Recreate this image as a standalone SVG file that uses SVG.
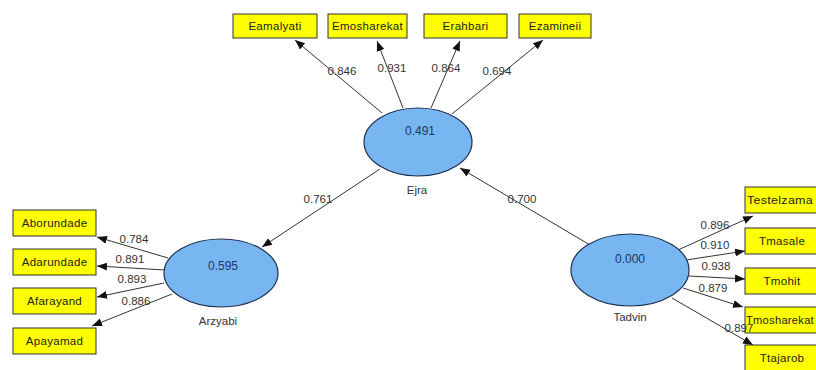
<svg xmlns="http://www.w3.org/2000/svg" width="816" height="370" viewBox="0 0 816 370">
<defs>
<marker id="ah" viewBox="0 0 10 10" refX="10" refY="5" markerWidth="10" markerHeight="10" markerUnits="userSpaceOnUse" orient="auto">
<path d="M0,1 L10,5 L0,9 Z" fill="#111"/>
</marker>
</defs>
<style>
.box{fill:#ffff00;stroke:#333;stroke-width:1}
.bt{font-family:"Liberation Sans",Arial,sans-serif;font-size:11.5px;fill:#222;text-anchor:middle;letter-spacing:0.3px}
.lv{fill:#78b6f2;stroke:#1f2f4f;stroke-width:1.2}
.lvt{font-family:"Liberation Sans",Arial,sans-serif;font-size:12px;fill:#1c3560;text-anchor:middle}
.lvn{font-family:"Liberation Sans",Arial,sans-serif;font-size:11.5px;fill:#333;text-anchor:middle}
.c{stroke:#333;stroke-width:1;fill:none;marker-end:url(#ah)}
.lb{font-family:"Liberation Sans",Arial,sans-serif;font-size:11.5px;fill:#333;text-anchor:middle}
</style>
<rect width="816" height="370" fill="#fff"/>
<g id="connectors">
<line class="c" x1="382" y1="113" x2="295" y2="40"/>
<line class="c" x1="403" y1="108" x2="377" y2="41"/>
<line class="c" x1="431" y1="108" x2="460" y2="41"/>
<line class="c" x1="452" y1="114" x2="543" y2="40"/>
<line class="c" x1="380" y1="169" x2="262" y2="247"/>
<line class="c" x1="590" y1="245" x2="460" y2="168"/>
<line class="c" x1="168" y1="258" x2="97" y2="237"/>
<line class="c" x1="165" y1="270" x2="97" y2="266"/>
<line class="c" x1="164" y1="283" x2="97" y2="297"/>
<line class="c" x1="172" y1="294" x2="92" y2="326"/>
<line class="c" x1="678" y1="250" x2="753" y2="216"/>
<line class="c" x1="686" y1="260" x2="745" y2="251"/>
<line class="c" x1="689" y1="276" x2="745" y2="279"/>
<line class="c" x1="683" y1="288" x2="743" y2="307"/>
<line class="c" x1="672" y1="298" x2="753" y2="345"/>
</g>
<g id="Ejra">
<ellipse class="lv" cx="418" cy="142" rx="54" ry="34"/>
<text class="lvt" x="420" y="135">0.491</text>
<text class="lvn" x="417" y="194">Ejra</text>
</g>
<g id="Arzyabi">
<ellipse class="lv" cx="221" cy="273" rx="57" ry="34"/>
<text class="lvt" x="223" y="270">0.595</text>
<text class="lvn" x="218" y="325">Arzyabi</text>
</g>
<g id="Tadvin">
<ellipse class="lv" cx="630" cy="270" rx="59" ry="36"/>
<text class="lvt" x="630" y="263">0.000</text>
<text class="lvn" x="630" y="321">Tadvin</text>
</g>
<g id="Eamalyati"><rect class="box" x="233" y="14" width="84" height="24"/><text class="bt" x="275" y="30">Eamalyati</text></g>
<g id="Emosharekat"><rect class="box" x="328" y="14" width="79" height="24"/><text class="bt" x="367.5" y="30">Emosharekat</text></g>
<g id="Erahbari"><rect class="box" x="424" y="14" width="83" height="24"/><text class="bt" x="465.5" y="30">Erahbari</text></g>
<g id="Ezamineii"><rect class="box" x="519" y="14" width="72" height="24"/><text class="bt" x="555" y="30">Ezamineii</text></g>
<g id="Aborundade"><rect class="box" x="13" y="210" width="83" height="26"/><text class="bt" x="54.5" y="227">Aborundade</text></g>
<g id="Adarundade"><rect class="box" x="13" y="249" width="83" height="26"/><text class="bt" x="54.5" y="266">Adarundade</text></g>
<g id="Afarayand"><rect class="box" x="13" y="288" width="83" height="26"/><text class="bt" x="54.5" y="305">Afarayand</text></g>
<g id="Apayamad"><rect class="box" x="13" y="328" width="83" height="26"/><text class="bt" x="54.5" y="345">Apayamad</text></g>
<g id="Testelzama"><rect class="box" x="745" y="187" width="76" height="26"/><text class="bt" x="780" y="204" textLength="66" lengthAdjust="spacingAndGlyphs">Testelzama</text></g>
<g id="Tmasale"><rect class="box" x="745" y="228" width="76" height="26"/><text class="bt" x="782" y="245">Tmasale</text></g>
<g id="Tmohit"><rect class="box" x="745" y="268" width="76" height="26"/><text class="bt" x="782" y="285">Tmohit</text></g>
<g id="Tmosharekat"><rect class="box" x="745" y="307" width="76" height="26"/><text class="bt" x="780" y="324" textLength="68" lengthAdjust="spacingAndGlyphs">Tmosharekat</text></g>
<g id="Ttajarob"><rect class="box" x="745" y="345" width="76" height="26"/><text class="bt" x="782" y="362">Ttajarob</text></g>
<g id="connector-labels">
<text class="lb" x="342" y="75">0.846</text>
<text class="lb" x="392" y="72">0.931</text>
<text class="lb" x="446" y="72">0.864</text>
<text class="lb" x="497" y="75">0.694</text>
<text class="lb" x="318" y="203">0.761</text>
<text class="lb" x="522" y="203">0.700</text>
<text class="lb" x="134" y="243">0.784</text>
<text class="lb" x="130" y="263">0.891</text>
<text class="lb" x="132" y="283">0.893</text>
<text class="lb" x="136" y="305">0.886</text>
<text class="lb" x="715" y="229">0.896</text>
<text class="lb" x="715" y="249">0.910</text>
<text class="lb" x="716" y="270">0.938</text>
<text class="lb" x="713" y="292">0.879</text>
<text class="lb" x="739" y="332">0.897</text>
</g>
</svg>
